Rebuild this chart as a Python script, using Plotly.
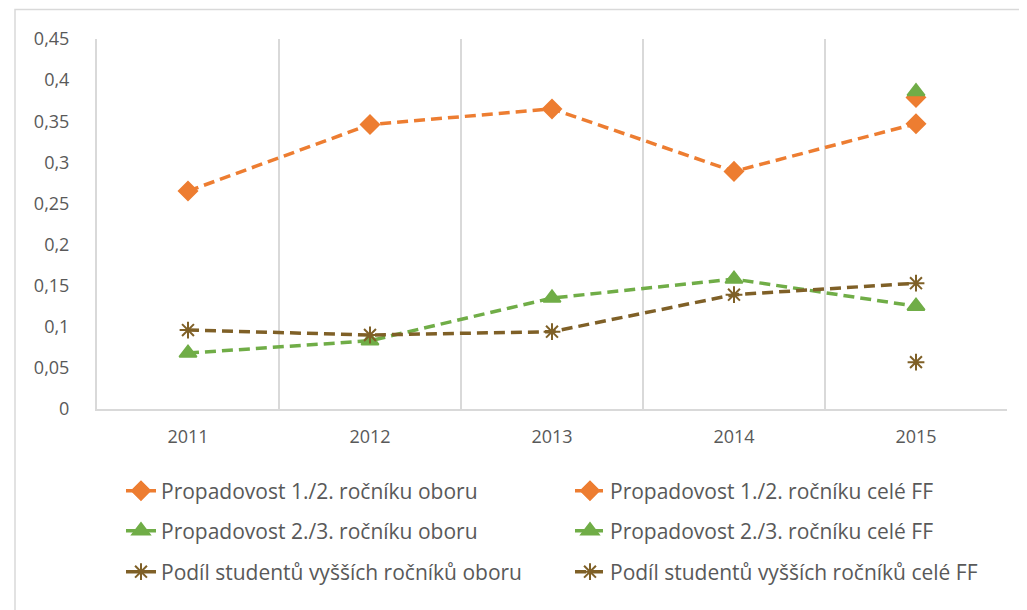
import plotly.graph_objects as go

years = [2011, 2012, 2013, 2014, 2015]
tick_labels = ["2011", "2012", "2013", "2014", "2015"]

prop12_obor = [None, None, None, None, 0.379]
prop12_ff = [0.265, 0.346, 0.365, 0.289, 0.347]
prop23_obor = [None, None, None, None, 0.386]
prop23_ff = [0.068, 0.083, 0.135, 0.158, 0.125]
podil_obor = [None, None, None, None, 0.057]
podil_ff = [0.096, 0.090, 0.094, 0.139, 0.153]

names = [
    "Propadovost 1./2. ročníku oboru",
    "Propadovost 1./2. ročníku celé FF",
    "Propadovost 2./3. ročníku oboru",
    "Propadovost 2./3. ročníku celé FF",
    "Podíl studentů vyšších ročníků oboru",
    "Podíl studentů vyšších ročníků celé FF",
]

ORANGE = "#ED7D31"
GREEN = "#70AD47"
BROWN = "#7F6027"

series = [
    (prop12_obor, ORANGE, "solid", "diamond", 14),
    (prop12_ff, ORANGE, "dash", "diamond", 14),
    (prop23_obor, GREEN, "solid", "triangle-up", 15),
    (prop23_ff, GREEN, "dash", "triangle-up", 15),
    (podil_obor, BROWN, "solid", "asterisk-open", 14),
    (podil_ff, BROWN, "dash", "asterisk-open", 14),
]

# legend slot positions (screen pixel) for each series: (legend-left x, row centre y)
legend_ids = ["legend", "legend2", "legend3", "legend4", "legend5", "legend6"]
legend_pos = [(121, 491), (570, 491), (121, 531), (570, 531), (121, 572), (570, 572)]

# plot area in screen pixels: left 97, right 1007, top 39, bottom 409
PL, PW, PT, PH = 97, 910, 39, 370

fig = go.Figure()
for name, (vals, col, dash, sym, size), lg in zip(names, series, legend_ids):
    fig.add_trace(go.Scatter(
        x=years, y=vals, name=name, mode="lines+markers",
        line=dict(color=col, width=3.5, dash="11px,6px" if dash == "dash" else "solid"),
        marker=dict(symbol=sym, size=size, color=col,
                    line=dict(color=col, width=2)),
        connectgaps=False, legend=lg,
    ))

legends = {}
for lg, (px, py) in zip(legend_ids, legend_pos):
    legends[lg] = dict(
        orientation="v", x=(px - PL) / PW, xanchor="left",
        y=(PT + PH - py) / PH, yanchor="middle",
        font=dict(size=21, color="#595959", family="Open Sans"),
        bgcolor="rgba(0,0,0,0)",
    )

# the page body adds an 8px offset
OFF = 8
fig.update_layout(
    width=1027 - OFF, height=610 - OFF,
    margin=dict(l=PL - OFF, r=1027 - (PL + PW), t=PT - OFF,
                b=610 - (PT + PH), autoexpand=False),
    paper_bgcolor="white", plot_bgcolor="white",
    separators=", ",
    font=dict(family="Open Sans", color="#595959", size=17),
    showlegend=True,
    shapes=[dict(type="rect", xref="paper", yref="paper",
                 x0=(15 - PL) / PW, x1=(1040 - PL) / PW,
                 y0=-0.62, y1=1 + (PT - 9.5) / PH,
                 line=dict(color="#D9D9D9", width=1.5), layer="below")],
    **legends,
)
fig.update_xaxes(
    range=[2010.5, 2015.5], tickmode="array", tickvals=years, ticktext=tick_labels,
    showgrid=False, showline=True, linecolor="#D9D9D9", linewidth=2,
    ticks="", zeroline=False, ticklabelstandoff=10,
    tickfont=dict(size=18, color="#595959"),
    minor=dict(tickmode="array", tickvals=[2011.5, 2012.5, 2013.5, 2014.5],
               showgrid=True, gridcolor="#D9D9D9", gridwidth=2, ticks=""),
)
fig.update_yaxes(
    range=[0, 0.45], tickmode="array",
    tickvals=[0, 0.05, 0.1, 0.15, 0.2, 0.25, 0.3, 0.35, 0.4, 0.45],
    showgrid=False, showline=True, linecolor="#D9D9D9", linewidth=2,
    zeroline=False, ticks="", ticklabelstandoff=22,
    tickfont=dict(size=18, color="#595959"),
)

fig.write_html("out.html")
